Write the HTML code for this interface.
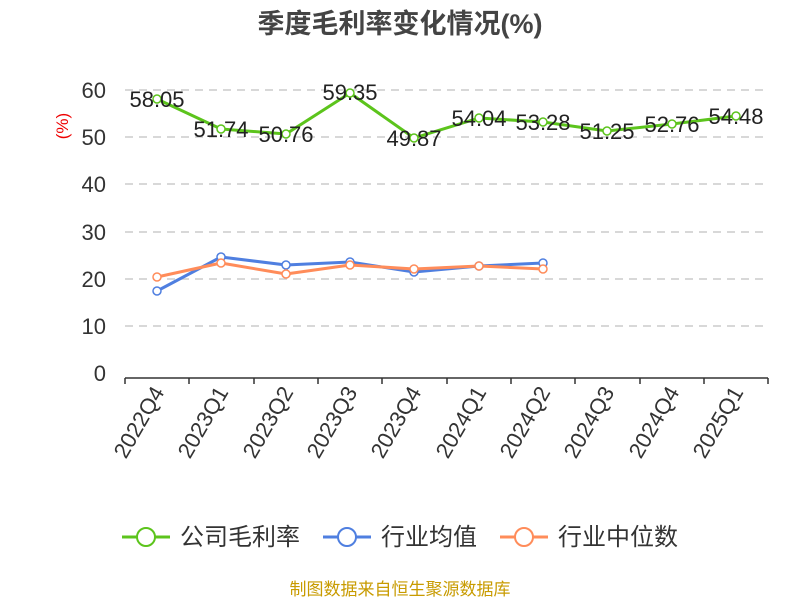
<!DOCTYPE html>
<html><head><meta charset="utf-8"><style>
body{margin:0;background:#fff;}
svg text{font-family:"Liberation Sans","Noto Sans CJK SC",sans-serif;}
</style></head><body>
<svg width="800" height="600" xmlns="http://www.w3.org/2000/svg">
<text x="400" y="33" text-anchor="middle" font-size="27" font-weight="bold" fill="#444">季度毛利率变化情况(%)</text>
<text x="68" y="126" font-size="17" fill="#e00" transform="rotate(-90 68 126)" text-anchor="middle">(%)</text>
<g stroke="#ccc" stroke-dasharray="8,6" stroke-width="1.5">
<line x1="125" x2="768" y1="326" y2="326"/><line x1="125" x2="768" y1="279" y2="279"/>
<line x1="125" x2="768" y1="232" y2="232"/><line x1="125" x2="768" y1="184" y2="184"/>
<line x1="125" x2="768" y1="137" y2="137"/><line x1="125" x2="768" y1="90" y2="90"/>
</g>
<line x1="125" x2="768" y1="378" y2="378" stroke="#333" stroke-width="1.5"/>
<g stroke="#333" stroke-width="1.5">
<line x1="125" x2="125" y1="378" y2="384"/><line x1="189" x2="189" y1="378" y2="384"/><line x1="254" x2="254" y1="378" y2="384"/><line x1="318" x2="318" y1="378" y2="384"/><line x1="382" x2="382" y1="378" y2="384"/><line x1="447" x2="447" y1="378" y2="384"/><line x1="511" x2="511" y1="378" y2="384"/><line x1="575" x2="575" y1="378" y2="384"/><line x1="640" x2="640" y1="378" y2="384"/><line x1="704" x2="704" y1="378" y2="384"/><line x1="768" x2="768" y1="378" y2="384"/>
</g>
<g font-size="22" fill="#333" text-anchor="end">
<text x="106" y="381">0</text><text x="106" y="334">10</text><text x="106" y="287">20</text><text x="106" y="240">30</text><text x="106" y="192">40</text><text x="106" y="145">50</text><text x="106" y="98">60</text>
</g>
<g font-size="22" fill="#333" text-anchor="end">
<text transform="translate(165,392) rotate(-60)">2022Q4</text>
<text transform="translate(229,392) rotate(-60)">2023Q1</text>
<text transform="translate(294,392) rotate(-60)">2023Q2</text>
<text transform="translate(358,392) rotate(-60)">2023Q3</text>
<text transform="translate(422,392) rotate(-60)">2023Q4</text>
<text transform="translate(487,392) rotate(-60)">2024Q1</text>
<text transform="translate(551,392) rotate(-60)">2024Q2</text>
<text transform="translate(615,392) rotate(-60)">2024Q3</text>
<text transform="translate(680,392) rotate(-60)">2024Q4</text>
<text transform="translate(744,392) rotate(-60)">2025Q1</text>
</g>
<polyline fill="none" stroke="#4f7fe0" stroke-width="3" stroke-linejoin="round" points="157,291 221,257 286,265 350,262 414,272 479,266 543,263"/>
<polyline fill="none" stroke="#ff8c5a" stroke-width="3" stroke-linejoin="round" points="157,277 221,263 286,274 350,265 414,269 479,266 543,269"/>
<polyline fill="none" stroke="#5cc41c" stroke-width="3" stroke-linejoin="round" points="157,99 221,129 286,134 350,93 414,138 479,118 543,122 607,131 672,124 736,116"/>
<g fill="#fff" stroke-width="1.5">
<g stroke="#4f7fe0"><circle cx="157" cy="291" r="4"/><circle cx="221" cy="257" r="4"/><circle cx="286" cy="265" r="4"/><circle cx="350" cy="262" r="4"/><circle cx="414" cy="272" r="4"/><circle cx="479" cy="266" r="4"/><circle cx="543" cy="263" r="4"/></g>
<g stroke="#ff8c5a"><circle cx="157" cy="277" r="4"/><circle cx="221" cy="263" r="4"/><circle cx="286" cy="274" r="4"/><circle cx="350" cy="265" r="4"/><circle cx="414" cy="269" r="4"/><circle cx="479" cy="266" r="4"/><circle cx="543" cy="269" r="4"/></g>
<g stroke="#5cc41c"><circle cx="157" cy="99" r="4"/><circle cx="221" cy="129" r="4"/><circle cx="286" cy="134" r="4"/><circle cx="350" cy="93" r="4"/><circle cx="414" cy="138" r="4"/><circle cx="479" cy="118" r="4"/><circle cx="543" cy="122" r="4"/><circle cx="607" cy="131" r="4"/><circle cx="672" cy="124" r="4"/><circle cx="736" cy="116" r="4"/></g>
</g>
<g font-size="22" fill="#222" text-anchor="middle">
<text x="157" y="107">58.05</text><text x="221" y="137">51.74</text><text x="286" y="142">50.76</text><text x="350" y="100">59.35</text><text x="414" y="146">49.87</text><text x="479" y="126">54.04</text><text x="543" y="130">53.28</text><text x="607" y="139">51.25</text><text x="672" y="132">52.76</text><text x="736" y="124">54.48</text>
</g>
<g stroke-width="3" fill="#fff">
<line x1="122" x2="170" y1="537" y2="537" stroke="#5cc41c"/><circle cx="146" cy="537" r="9" stroke="#5cc41c" stroke-width="2"/>
<line x1="323" x2="371" y1="537" y2="537" stroke="#4f7fe0"/><circle cx="347" cy="537" r="9" stroke="#4f7fe0" stroke-width="2"/>
<line x1="500" x2="548" y1="537" y2="537" stroke="#ff8c5a"/><circle cx="524" cy="537" r="9" stroke="#ff8c5a" stroke-width="2"/>
</g>
<g font-size="24" fill="#333">
<text x="180" y="545">公司毛利率</text><text x="381" y="545">行业均值</text><text x="558" y="545">行业中位数</text>
</g>
<text x="400" y="595" text-anchor="middle" font-size="17" fill="#c89b00">制图数据来自恒生聚源数据库</text>
</svg>
</body></html>
